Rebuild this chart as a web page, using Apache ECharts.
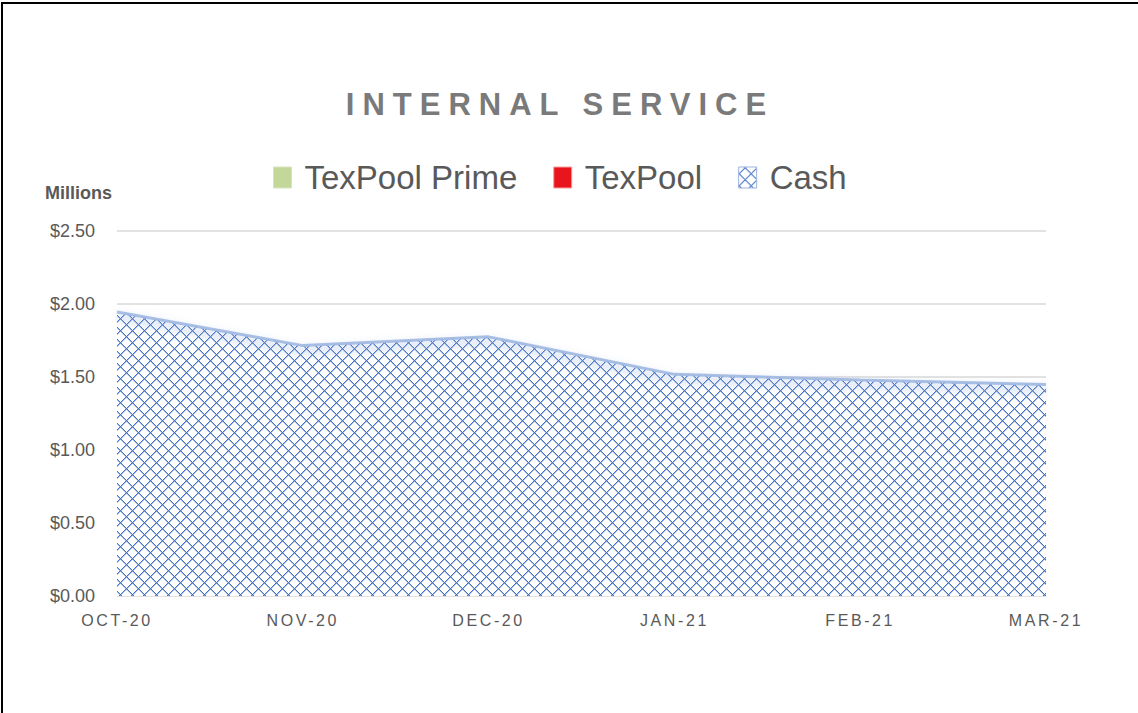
<!DOCTYPE html>
<html>
<head>
<meta charset="utf-8">
<script src="https://cdn.jsdelivr.net/npm/echarts@6/dist/echarts.min.js"></script>
<style>
  html, body { margin: 0; padding: 0; background: #fff; }
  #chart { position: absolute; left: 0; top: 0; width: 1138px; height: 713px; }
  .bt { position: absolute; left: 1px; top: 2px; width: 1137px; height: 2px; background: #000; }
  .bl { position: absolute; left: 1px; top: 2px; width: 2px; height: 711px; background: #000; }
  #chart text[style*="31px"] { letter-spacing: 8px; }
  #chart text[style*="16px"] { letter-spacing: 2.6px; }
</style>
</head>
<body>
<div id="chart"></div>
<div class="bt"></div>
<div class="bl"></div>
<script>
const categories = ['OCT-20', 'NOV-20', 'DEC-20', 'JAN-21', 'FEB-21', 'MAR-21'];
const texPoolPrime = [0, 0, 0, 0, 0, 0];
const texPool = [0, 0, 0, 0, 0, 0];
const cash = [1.945, 1.715, 1.775, 1.518, 1.480, 1.448];
const yTicks = [0, 0.5, 1.0, 1.5, 2.0, 2.5];

// cross-hatch diamond pattern tile
function makePattern() {
  const s = 12;
  const c = document.createElement('canvas');
  c.width = s; c.height = s;
  const ctx = c.getContext('2d');
  ctx.fillStyle = '#ffffff';
  ctx.fillRect(0, 0, s, s);
  ctx.fillStyle = '#4472C4';
  const h = s / 2;
  for (let i = 0; i < s; i++) {
    const y1 = ((h - i) % s + s) % s;
    const y2 = (h + i) % s;
    ctx.fillRect(i, y1, 1, 1);
    ctx.fillRect(i, y2, 1, 1);
  }
  ctx.globalAlpha = 0.45;
  for (let i = 0; i < s; i++) {
    const y1 = ((h - i) % s + s) % s;
    const y2 = (h + i) % s;
    ctx.fillRect(i, (y1 + 1) % s, 1, 1);
    ctx.fillRect(i, (y2 + 1) % s, 1, 1);
  }
  return c.toDataURL();
}
const patternImg = makePattern();
const cashFill = { image: patternImg, repeat: 'repeat' };

const chart = echarts.init(document.getElementById('chart'), null, { renderer: 'svg' });
chart.setOption({
  animation: false,
  backgroundColor: '#ffffff',
  title: {
    text: 'INTERNAL SERVICE',
    left: 555,
    top: 84,
    textAlign: 'center',
    textStyle: { fontFamily: 'Liberation Sans', fontWeight: 'bold', fontSize: 31, color: '#7a7a7a' }
  },
  legend: {
    left: 268,
    top: 156,
    itemWidth: 18,
    itemHeight: 21,
    itemGap: 36,
    icon: 'rect',
    textStyle: { fontFamily: 'Liberation Sans', fontSize: 33, color: '#595959', padding: [0, 0, 0, 8] },
    data: [
      { name: 'TexPool Prime', itemStyle: { color: '#c4d79b', borderColor: '#d8e4bc', borderWidth: 1 } },
      { name: 'TexPool', itemStyle: { color: '#e8161c', borderColor: '#f4a0a0', borderWidth: 1 } },
      { name: 'Cash', itemStyle: { color: cashFill, borderColor: '#9db4de', borderWidth: 1 } }
    ]
  },
  graphic: [{
    type: 'text',
    left: 45,
    top: 184,
    style: { text: 'Millions', fontFamily: 'Liberation Sans', fontWeight: 'bold', fontSize: 18, fill: '#595959' }
  }],
  grid: { left: 117, right: 92, top: 231, bottom: 117, containLabel: false },
  xAxis: {
    type: 'category',
    data: categories,
    boundaryGap: false,
    axisLine: { show: false },
    axisTick: { show: false },
    axisLabel: { fontFamily: 'Liberation Sans', fontSize: 16, color: '#595959', margin: 16 }
  },
  yAxis: {
    type: 'value',
    min: yTicks[0],
    max: yTicks[yTicks.length - 1],
    interval: 0.5,
    axisLine: { show: false },
    axisTick: { show: false },
    axisLabel: {
      fontFamily: 'Liberation Sans', fontSize: 18, color: '#595959', margin: 22,
      formatter: v => '$' + v.toFixed(2)
    },
    splitLine: { lineStyle: { color: '#d9d9d9', width: 1.5 } }
  },
  series: [
    {
      name: 'TexPool Prime', type: 'line', stack: 'total', data: texPoolPrime,
      showSymbol: false, symbol: 'none',
      lineStyle: { width: 0, color: '#c4d79b' }, itemStyle: { color: '#c4d79b' },
      areaStyle: { color: '#c4d79b' }
    },
    {
      name: 'TexPool', type: 'line', stack: 'total', data: texPool,
      showSymbol: false, symbol: 'none',
      lineStyle: { width: 0, color: '#e8161c' }, itemStyle: { color: '#e8161c' },
      areaStyle: { color: '#e8161c' }
    },
    {
      name: 'Cash', type: 'line', stack: 'total', data: cash,
      showSymbol: false, symbol: 'none',
      itemStyle: { color: '#4472C4' },
      lineStyle: { width: 3, color: 'rgba(160,184,226,0.9)', shadowBlur: 10, shadowColor: 'rgba(143,170,220,0.9)', shadowOffsetY: 5 },
      areaStyle: { color: cashFill, opacity: 1 }
    }
  ]
});
</script>
</body>
</html>
